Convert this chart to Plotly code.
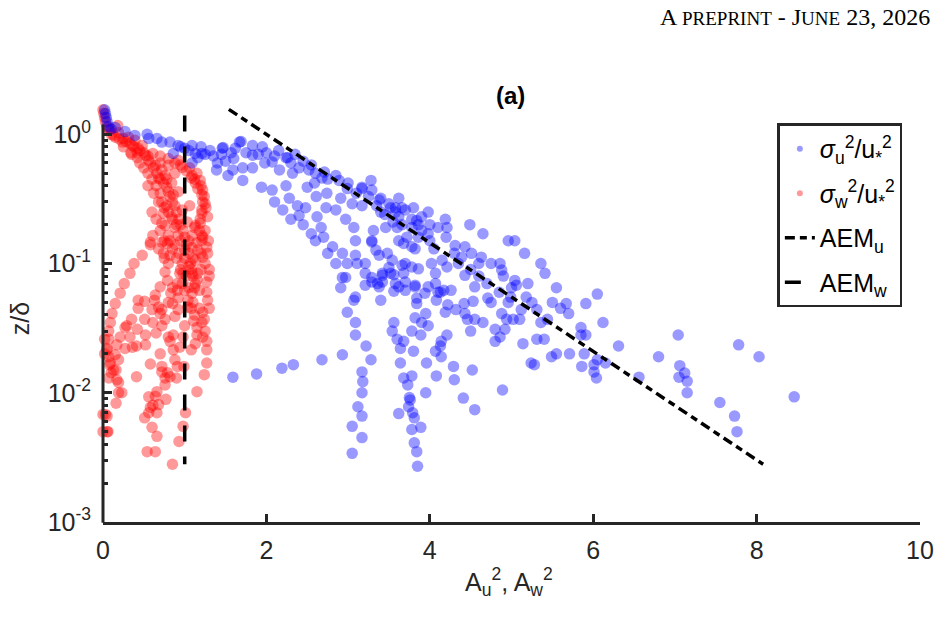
import plotly.graph_objects as go

# ---------------- data ----------------
# sigma_u^2/u*^2  (blue)
blue_x = [0.02,0.03,0.04,0.05,0.07,0.10,0.15,0.27,0.39,0.54,0.56,0.66,0.72,0.82,0.86,0.92,1.00,1.09,1.13,1.09,1.16,1.31,1.40,1.39,1.46,
          1.21,1.47,1.57,1.67,1.83,1.53,1.59,1.71,1.71,1.83,1.83,1.94,1.98,2.07,2.07,2.16,2.24,2.24,2.28,2.32,2.40,2.38,2.40,2.48,2.52,2.50,2.59,2.61,2.62,2.68,2.67,2.73,2.74,2.81,2.85,2.91,2.93,2.97,3.05,3.07,3.09,3.11,3.17,3.17,2.93,2.91,3.21,3.28,3.29,3.31,3.29,3.38,3.40,3.42,3.46,3.48,3.50,3.58,3.62,3.66,3.70,3.68,3.72,3.78,3.78,3.80,3.70,3.58,3.21,3.38,3.50,3.70,
          3.98,4.19,4.21,4.10,4.49,4.65,4.96,5.16,5.36,5.41,4.31,4.43,4.51,4.39,4.63,4.75,4.86,4.88,5.04,5.06,5.18,4.99,4.71,4.15,4.21,4.07,3.98,3.86,3.78,4.02,4.26,4.13,3.82,3.66,3.54,3.38,3.68,3.82,3.86,3.98,3.62,3.29,3.34,3.21,3.09,2.99,2.97,3.52,3.70,3.94,3.62,3.42,3.29,3.09,
          1.69,2.26,2.71,2.89,2.99,3.17,3.40,3.52,3.58,3.78,3.86,3.62,3.66,3.84,5.04,
          3.29,3.36,3.42,3.07,2.99,3.09,3.09,2.93,3.22,3.28,3.17,3.18,3.17,3.12,3.17,3.05,3.17,3.05,3.40,3.56,3.56,3.54,3.60,3.68,3.64,3.80,3.64,3.68,3.78,3.73,3.95,3.62,3.75,3.76,3.74,3.79,3.81,3.89,3.78,3.81,3.84,3.85,3.78,3.89,3.96,4.08,4.07,4.14,4.13,4.14,4.21,4.29,4.30,4.41,4.55,4.52,3.56,3.82,3.84,3.84,3.95,3.98,3.82,3.90,4.08,4.07,4.10,4.17,4.19,4.22,4.32,4.42,4.43,4.46,4.53,4.55,4.65,4.50,4.75,4.80,4.80,4.55,4.43,
          4.96,4.88,4.94,4.92,5.02,5.10,5.12,4.86,4.89,5.14,5.24,5.28,5.31,5.40,5.36,5.44,5.31,5.49,5.55,5.67,5.70,5.91,5.85,5.85,5.91,5.71,5.86,5.89,6.01,6.01,6.04,6.05,6.12,6.15,6.31,6.56,6.80,7.04,7.06,7.12,7.05,7.15,7.15,7.55,7.73,7.76,7.78,8.03,8.46,
          2.68,2.33,2.19,1.88,1.59,6.05,5.55,
          0.95,1.05,1.20,1.25,1.35,1.45,1.50,1.60,1.62,1.75,1.90,1.95,2.00,2.10,2.15,2.30,2.35,2.45,2.55,2.60,2.75,2.85,3.00,3.10,3.25,3.35,3.45,3.55,3.60,3.90,4.00,4.05,4.30,4.35,4.50,4.60,4.70,4.85,5.00,5.20,5.25,5.50,5.60,4.90,4.60,4.20,4.00,3.90,
          2.10,2.20,2.30,2.45,2.55,2.60,2.70,2.75,2.85]
blue_z = [1.55,1.45,1.35,1.25,1.15,1.10,1.13,1.05,0.98,1.00,0.93,0.93,0.87,0.87,0.71,0.82,0.78,0.82,0.71,0.60,0.66,0.75,0.60,0.53,0.78,
          0.71,0.79,0.72,0.87,0.82,0.48,0.53,0.55,0.44,0.69,0.55,0.39,0.60,0.61,0.37,0.53,0.66,0.40,0.32,0.50,0.55,0.28,0.235,0.27,0.53,0.39,0.42,0.33,0.23,0.46,0.19,0.27,0.35,0.135,0.26,0.32,0.12,0.22,0.29,0.19,0.15,0.10,0.39,0.28,0.078,0.065,0.084,0.44,0.37,0.18,0.15,0.31,0.25,0.084,0.19,0.12,0.29,0.27,0.23,0.20,0.26,0.084,0.16,0.19,0.135,0.27,0.10,0.07,0.068,0.066,0.093,0.062,
          0.25,0.22,0.19,0.19,0.20,0.17,0.15,0.12,0.10,0.084,0.138,0.135,0.12,0.112,0.112,0.10,0.10,0.089,0.074,0.068,0.055,0.055,0.054,0.106,0.094,0.084,0.066,0.091,0.094,0.10,0.062,0.06,0.068,0.097,0.106,0.116,0.143,0.13,0.16,0.17,0.15,0.147,0.127,0.10,0.116,0.10,0.078,0.084,0.072,0.059,0.066,0.072,0.078,0.055,
          0.88,0.66,0.51,0.44,0.38,0.38,0.32,0.27,0.25,0.22,0.20,0.32,0.27,0.215,0.15,
          0.072,0.07,0.081,0.052,0.042,0.035,0.028,0.0197,0.023,0.018,0.0145,0.0122,0.010,0.0078,0.0066,0.0055,0.0045,0.0034,0.052,0.061,0.035,0.030,0.026,0.025,0.022,0.021,0.017,0.013,0.0135,0.0115,0.010,0.0069,0.0092,0.0088,0.0078,0.0070,0.0064,0.0054,0.0052,0.0041,0.0035,0.0027,0.030,0.028,0.017,0.0135,0.021,0.019,0.023,0.025,0.028,0.016,0.0126,0.0091,0.0074,0.015,0.082,0.066,0.054,0.049,0.041,0.033,0.038,0.035,0.052,0.070,0.060,0.062,0.042,0.048,0.044,0.049,0.041,0.037,0.051,0.037,0.035,0.030,0.050,0.031,0.025,0.066,0.081,
          0.050,0.041,0.037,0.031,0.037,0.037,0.044,0.027,0.0105,0.024,0.017,0.0165,0.026,0.026,0.035,0.037,0.044,0.019,0.020,0.049,0.041,0.049,0.032,0.028,0.028,0.020,0.016,0.020,0.0165,0.0145,0.013,0.018,0.035,0.017,0.023,0.0132,0.019,0.028,0.0162,0.0142,0.0132,0.0123,0.010,0.0084,0.0066,0.0050,0.0235,0.019,0.0093,
          0.018,0.0165,0.0155,0.014,0.0132,0.058,0.065,
          0.80,0.75,0.80,0.70,0.68,0.70,0.62,0.65,0.78,0.72,0.70,0.80,0.72,0.68,0.75,0.60,0.70,0.62,0.58,0.50,0.45,0.48,0.42,0.35,0.33,0.28,0.24,0.21,0.19,0.18,0.15,0.13,0.12,0.10,0.09,0.08,0.07,0.06,0.065,0.07,0.05,0.05,0.045,0.08,0.10,0.16,0.20,0.23,
          0.30,0.26,0.22,0.20,0.17,0.15,0.16,0.12,0.10]

# sigma_w^2/u*^2  (red)
red_x = [0.00,0.01,0.02,0.03,0.05,0.08,0.07,0.19,0.24,0.31,0.36,0.43,0.48,0.42,0.52,0.56,0.61,0.64,0.70,0.72,0.76,0.68,0.80,0.84,0.78,0.88,0.92,0.97,1.09,1.13,1.16,1.21,1.22,0.92,0.86,0.78,0.88,0.74,0.84,0.97,1.03,0.76,0.88,0.72,1.13,1.19,1.21,1.06,0.61,0.80,0.92,1.09,1.21,0.58,0.72,
         0.13,0.18,0.25,0.34,0.39,
         1.19,1.22,1.25,1.21,1.19,1.22,1.27,1.22,1.15,1.06,
         0.58,0.79,0.48,0.38,0.33,0.26,0.21,0.15,0.11,0.09,0.07,0.07,0.05,0.07,0.08,0.10,0.15,0.17,0.21,0.27,0.33,0.36,0.27,0.19,0.16,0.19,0.23,0.16,0.03,0.06,0.41,0.58,0.43,0.51,0.43,0.29,0.35,0.42,0.52,0.52,0.41,0.51,0.60,0.63,0.70,0.61,0.65,0.72,0.76,0.80,0.82,0.86,0.70,0.72,0.76,0.82,0.76,0.72,0.66,0.64,0.61,0.58,0.56,0.51,0.66,0.68,0.60,0.66,0.54,0.64,0.56,0.77,0.85,0.93,0.98,1.01,1.15,0.90,0.91,0.88,0.86,0.94,0.98,1.00,0.79,0.99,1.08,1.13,1.22,1.27,1.27,1.24,1.21,1.24,1.11,1.04,1.00,0.97,0.92,0.88,0.85,0.83,0.80,0.72,0.68,0.91,0.94,0.97,
         1.09,1.13,1.16,1.13,1.09,1.04,1.25,1.27,1.28,1.22,1.16,1.21,1.00,0.98,1.09,0.92,0.79,0.70,0.64,0.85,0.91,0.80,0.76,0.74,0.82,
         1.12,1.18,1.05,1.15,1.20,1.10,1.05,1.20,1.15,1.18,
         0.00,0.00,0.02,0.02,0.05,0.09,0.13,0.07,0.17,0.19,0.05,0.05,
         0.10,0.15,0.20,0.28,0.33,0.38,0.45,0.50,0.55,0.58,0.62,0.66,0.70,0.74,0.78,0.80,0.82,0.85,0.90,0.93,0.95,0.98,1.00,1.02,1.05,1.07,1.08,1.10,1.12,1.10,1.08,1.12,1.15,1.15,1.18,0.45,0.50,0.55,0.60,0.65,0.70,0.72,0.80,0.85,0.90,0.95,1.00,1.02,1.05,0.25,0.35,0.42,
         0.70,0.80,0.88,0.95,1.02,1.08,1.12,1.20,1.24,1.26,1.28,1.25,1.29,1.28,1.30,1.30,1.27,1.30,1.25,1.27,
         0.55,0.62,0.68,0.75,0.60,0.65,0.70,0.75,0.85,0.90,0.95,0.68,0.75,0.82,0.88,0.93]
red_z = [1.55,1.45,1.35,1.25,1.15,1.08,1.10,1.03,0.87,0.95,0.82,0.78,0.82,0.66,0.69,0.63,0.71,0.575,0.60,0.53,0.48,0.46,0.575,0.42,0.39,0.50,0.63,0.555,0.48,0.42,0.38,0.34,0.30,0.36,0.34,0.28,0.28,0.245,0.23,0.26,0.21,0.197,0.19,0.205,0.197,0.22,0.26,0.28,0.165,0.165,0.165,0.165,0.165,0.146,0.146,
         0.98,1.17,0.93,0.72,0.90,
         0.44,0.37,0.29,0.245,0.205,0.16,0.134,0.112,0.50,0.55,
         0.14,0.143,0.116,0.10,0.084,0.07,0.059,0.049,0.041,0.035,0.030,0.026,0.022,0.019,0.0165,0.0143,0.0197,0.0235,0.027,0.032,0.027,0.0225,0.022,0.018,0.015,0.012,0.010,0.0083,0.0068,0.0050,0.0133,0.0167,0.052,0.051,0.045,0.033,0.037,0.031,0.028,0.0235,0.023,0.037,0.044,0.052,0.041,0.035,0.029,0.033,0.037,0.027,0.025,0.028,0.020,0.0145,0.013,0.0133,0.0115,0.016,0.0102,0.0094,0.008,0.0077,0.007,0.0064,0.007,0.0081,0.0054,0.0046,0.0035,0.0035,0.0093,0.0089,0.0028,0.0042,0.0055,0.007,0.0102,0.013,0.016,0.018,0.0215,0.0225,0.027,0.033,0.0143,0.016,0.0215,0.024,0.027,0.0215,0.017,0.0138,0.035,0.037,0.036,0.046,0.062,0.07,0.044,0.039,0.049,0.059,0.05,0.044,0.046,0.062,0.084,0.10,
         0.133,0.106,0.084,0.07,0.059,0.052,0.10,0.072,0.052,0.042,0.127,0.151,0.127,0.084,0.084,0.054,0.074,0.066,0.057,0.065,0.07,0.10,0.086,0.12,0.116,
         0.19,0.18,0.15,0.145,0.12,0.11,0.095,0.09,0.075,0.062,
         0.0068,0.005,0.02,0.026,0.0215,0.017,0.015,0.013,0.0126,0.010,0.0066,0.005,
         1.00,0.95,0.92,0.88,0.85,0.80,0.75,0.72,0.68,0.60,0.55,0.50,0.45,0.42,0.45,0.36,0.33,0.30,0.25,0.22,0.20,0.18,0.16,0.14,0.12,0.10,0.09,0.08,0.065,0.05,0.045,0.04,0.032,0.028,0.045,0.60,0.55,0.50,0.45,0.40,0.35,0.30,0.25,0.22,0.20,0.15,0.11,0.08,0.065,0.80,0.70,0.72,
         0.68,0.65,0.60,0.58,0.52,0.46,0.45,0.40,0.33,0.27,0.23,0.18,0.15,0.12,0.09,0.08,0.06,0.045,0.03,0.025,
         0.40,0.35,0.30,0.27,0.25,0.22,0.18,0.15,0.13,0.11,0.09,0.13,0.11,0.15,0.14,0.12]

# AEM model lines (end points)
aem_u_x = [1.54, 8.08]
aem_u_z = [1.56, 0.0028]
aem_w_x = [1.0, 1.0]
aem_w_z = [1.40, 0.0028]

x_ticks = [0, 2, 4, 6, 8, 10]
y_ticks = [1e-3, 1e-2, 1e-1, 1e0]
y_ticktext = ["10<sup>-3</sup>", "10<sup>-2</sup>", "10<sup>-1</sup>", "10<sup>0</sup>"]
y_minor = [m * 10.0 ** e for e in (-3, -2, -1) for m in range(2, 10)]

# ---------------- figure ----------------
AX = "#262626"
FONT = "Liberation Sans, Arial, Helvetica, sans-serif"
DASH_U = "10px,5px,7px,5px"
DASH_W = "16px,15px"

fig = go.Figure()

fig.add_trace(go.Scatter(x=red_x, y=red_z, mode="markers", showlegend=False,
                         marker=dict(size=11.5, color="rgba(255,0,0,0.4)", line=dict(width=0)),
                         cliponaxis=False))
fig.add_trace(go.Scatter(x=blue_x, y=blue_z, mode="markers", showlegend=False,
                         marker=dict(size=11.5, color="rgba(0,0,255,0.4)", line=dict(width=0)),
                         cliponaxis=False))
fig.add_trace(go.Scatter(x=aem_u_x, y=aem_u_z, mode="lines", showlegend=False,
                         line=dict(color="black", width=3.5, dash=DASH_U)))
fig.add_trace(go.Scatter(x=aem_w_x, y=aem_w_z, mode="lines", showlegend=False,
                         line=dict(color="black", width=3.5, dash=DASH_W)))

# legend entries
fig.add_trace(go.Scatter(x=[None], y=[None], mode="markers", legendgroup="a",
                         name="<i>σ</i><sub>u</sub><sup>2</sup>/u<sub>*</sub><sup>2</sup>",
                         marker=dict(size=6, color="rgba(0,0,255,0.4)")))
fig.add_trace(go.Scatter(x=[None], y=[None], mode="markers", legendgroup="b",
                         name="<i>σ</i><sub>w</sub><sup>2</sup>/u<sub>*</sub><sup>2</sup>",
                         marker=dict(size=6, color="rgba(255,0,0,0.4)")))
fig.add_trace(go.Scatter(x=[None], y=[None], mode="lines", name="AEM<sub>u</sub>", legendgroup="c",
                         line=dict(color="black", width=3.5, dash=DASH_U)))
fig.add_trace(go.Scatter(x=[None], y=[None], mode="lines", name="AEM<sub>w</sub>", legendgroup="d",
                         line=dict(color="black", width=3.5, dash=DASH_W)))

L, R, T, B = 102.6, 21.5, 101.5, 99
pw, ph = 946 - L - R, 621 - T - B

fig.update_layout(
    width=946, height=621,
    margin=dict(l=L, r=R, t=T, b=B, pad=0),
    paper_bgcolor="white", plot_bgcolor="white",
    font=dict(family=FONT, size=25, color=AX),
    showlegend=True,
    legend=dict(x=(781 - L) / pw, y=(522 - 123) / ph, xanchor="left", yanchor="top",
                bgcolor="white", bordercolor=AX, borderwidth=2.5,
                font=dict(family=FONT, size=25, color="black"),
                tracegroupgap=9, itemwidth=30),
    xaxis=dict(range=[0, 10], tickmode="array", tickvals=x_ticks,
               ticks="inside", ticklen=8, tickwidth=2.5, tickcolor=AX,
               showline=True, linewidth=3, linecolor=AX, showgrid=False, zeroline=False,
               tickfont=dict(family=FONT, size=25, color=AX), ticklabelstandoff=4),
    yaxis=dict(type="log", range=[-3, 0.25], tickmode="array", tickvals=y_ticks, ticktext=y_ticktext,
               ticks="inside", ticklen=9, tickwidth=2.5, tickcolor=AX,
               minor=dict(ticks="inside", ticklen=5, tickwidth=2.5, tickcolor=AX, tickmode="array",
                          tickvals=y_minor, showgrid=False),
               showline=False, showgrid=False, zeroline=False,
               tickfont=dict(family=FONT, size=25, color=AX), ticklabelstandoff=11),
    shapes=[dict(type="line", xref="paper", yref="paper", x0=0, x1=0, y0=-0.002, y1=(522 - 124) / ph,
                 line=dict(color=AX, width=3))],
    annotations=[
        dict(text="<b>(a)</b>", xref="paper", yref="paper", x=(513 - L) / pw, y=(522 - 95) / ph,
             xanchor="center", yanchor="middle", showarrow=False,
             font=dict(family=FONT, size=24, color="black")),
        dict(text="z/δ", xref="paper", yref="paper", x=(19 - L) / pw, y=(522 - 318) / ph,
             xanchor="center", yanchor="middle", textangle=-90, showarrow=False,
             font=dict(family=FONT, size=25, color=AX)),
        dict(text="A<sub>u</sub><sup>2</sup>, A<sub>w</sub><sup>2</sup>", xref="paper", yref="paper",
             x=(511 - L) / pw, y=(522 - 582) / ph, xanchor="center", yanchor="middle", showarrow=False,
             font=dict(family=FONT, size=25, color=AX)),
        dict(text="A <span style='font-size:19px'>PREPRINT</span> - J<span style='font-size:19px'>UNE</span> 23, 2026",
             xref="paper", yref="paper", x=(937 - L) / pw, y=(522 - 16) / ph,
             xanchor="right", yanchor="middle", showarrow=False,
             font=dict(family="Liberation Serif, Times New Roman, serif", size=24, color="black")),
    ],
)

fig.write_html("out.html")
